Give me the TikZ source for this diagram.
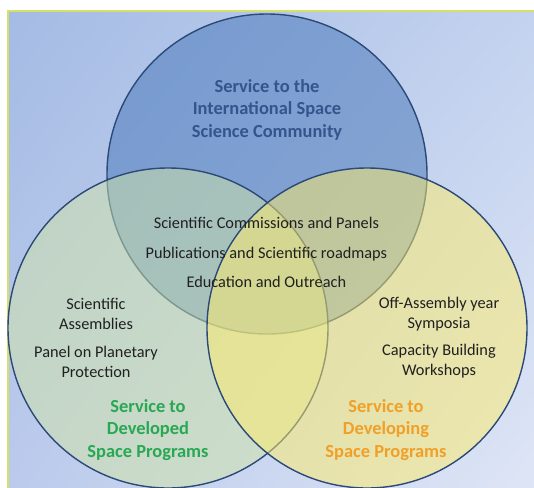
\documentclass[tikz,border=0pt]{standalone}
\usepackage{fontspec}
\setmainfont{Carlito}
\usetikzlibrary{positioning,shadings}

\definecolor{bgA}{HTML}{A4BBE4}
\definecolor{bgB}{HTML}{C4D3EF}
\definecolor{bgC}{HTML}{BCCBEC}
\definecolor{bgD}{HTML}{DFE6F6}
\definecolor{edgeline}{HTML}{D4E06A}
\definecolor{ringline}{HTML}{2C4A78}
\definecolor{iscfill}{HTML}{4374B8}
\definecolor{devfill}{HTML}{D0E4A6}
\definecolor{dvgfill}{HTML}{FFEC68}
\definecolor{isctext}{HTML}{34558B}
\definecolor{devtext}{RGB}{40,168,82}
\definecolor{dvgtext}{RGB}{240,160,40}
\definecolor{itemtext}{HTML}{202020}

\tikzset{
  ring/.style={draw=ringline, line width=1pt, fill opacity=0.5},
  item/.style={font=\fontsize{11.6}{14.2}\selectfont, text=itemtext, align=center, inner sep=0pt},
  head/.style={font=\bfseries\fontsize{13.1}{16}\selectfont, align=center, inner sep=0pt},
}

\begin{document}
\begin{tikzpicture}
% page with the shaded panel
\useasboundingbox (0,0) rectangle (13.35,-12.2);
\clip (0,0) rectangle (13.35,-12.2);
\fill[white] (0,0) rectangle (13.35,-12.2);
\shade[upper left=bgA, upper right=bgB, lower left=bgC, lower right=bgD] (0.2,-0.275) rectangle (13.6,-12.5);
\draw[edgeline, line width=1.2pt] (0.2,-12.5) -- (0.2,-0.275) -- (13.6,-0.275);
% three overlapping circles
\draw[ring, fill=iscfill] (6.675,-4.35) circle (4);
\draw[ring, fill=devfill] (4.2,-8.2) circle (4);
\draw[ring, fill=dvgfill] (9.175,-8.2) circle (4);
% headings
\node[head, text=isctext] (isc) at (6.675,-2.74) {Service to the\\International Space\\Science Community};
\node[head, text=devtext] (dev) at (3.7,-10.75) {Service to\\Developed\\Space Programs};
\node[head, text=dvgtext] (dvg) at (9.65,-10.75) {Service to\\Developing\\Space Programs};
% shared activities
\node[item] (com) at (6.66,-5.575) {Scientific Commissions and Panels};
\node[item] (pub) at (6.66,-6.35) {Publications and Scientific roadmaps};
\node[item] (edu) at (6.66,-7.05) {Education and Outreach};
% developed programs
\node[item] (asm) at (2.4,-7.85) {Scientific\\Assemblies};
\node[item] (ppp) at (2.4,-9.04) {Panel on Planetary\\Protection};
% developing programs
\node[item] (sym) at (10.975,-7.85) {Off-Assembly year\\Symposia};
\node[item] (cbw) at (10.975,-9.04) {Capacity Building\\Workshops};
\end{tikzpicture}
\end{document}
